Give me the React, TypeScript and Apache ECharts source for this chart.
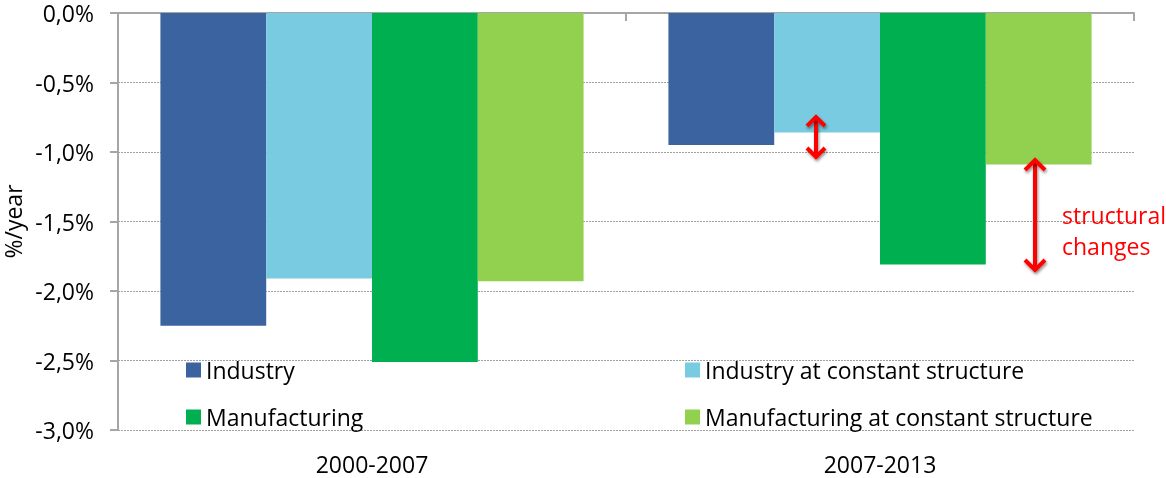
import React, { useEffect, useRef } from "react";
import * as echarts from "echarts";

const categories = ["2000-2007", "2007-2013"];
const industry = [-2.25, -0.95];
const industryConst = [-1.91, -0.86];
const manufacturing = [-2.51, -1.81];
const manufacturingConst = [-1.93, -1.09];
const seriesNames = [
  "Industry",
  "Industry at constant structure",
  "Manufacturing",
  "Manufacturing at constant structure",
];
const colors = ["#3A63A0", "#78CBE0", "#00B050", "#92D050"];
const FONT = "'Open Sans', sans-serif";
const FS = 23;

function arrow(x: number, y1: number, y2: number, w: number) {
  const shadow = {
    shadowBlur: 3,
    shadowColor: "rgba(0,0,0,0.45)",
    shadowOffsetX: 1,
    shadowOffsetY: 2,
  };
  const style = {
    stroke: "#FF0000",
    lineWidth: 4,
    fill: "none",
    lineJoin: "miter",
    ...shadow,
  };
  return [
    {
      type: "rect",
      z: 100,
      shape: { x: x - 2, y: y1 + 2, width: 4, height: y2 - y1 - 4 },
      style: { fill: "#FF0000", ...shadow },
    },
    {
      type: "polyline",
      z: 100,
      shape: { points: [[x - w, y1 + w], [x, y1], [x + w, y1 + w]] },
      style,
    },
    {
      type: "polyline",
      z: 100,
      shape: { points: [[x - w, y2 - w], [x, y2], [x + w, y2 - w]] },
      style,
    },
  ];
}

export default function App() {
  const ref = useRef<HTMLDivElement>(null);
  useEffect(() => {
    if (!ref.current) return;
    const chart = echarts.init(ref.current, null, { renderer: "svg" });
    const data = [industry, industryConst, manufacturing, manufacturingConst];
    const legendText = { fontSize: FS, color: "#000", fontFamily: FONT, lineHeight: 24 };
    chart.setOption({
      animation: false,
      textStyle: { fontFamily: FONT },
      grid: {
        left: 118,
        right: 32,
        top: 13,
        bottom: 48,
        containLabel: false,
        outerBoundsMode: "none",
      },
      legend: [
        {
          data: [seriesNames[0], seriesNames[2]],
          orient: "vertical",
          left: 181,
          top: 353,
          itemWidth: 15,
          itemHeight: 15,
          itemGap: 23,
          icon: "rect",
          textStyle: legendText,
        },
        {
          data: [seriesNames[1], seriesNames[3]],
          orient: "vertical",
          left: 680,
          top: 353,
          itemWidth: 15,
          itemHeight: 15,
          itemGap: 23,
          icon: "rect",
          textStyle: legendText,
        },
      ],
      xAxis: [
        {
          type: "category",
          data: categories,
          position: "bottom",
          axisLine: { show: false },
          axisTick: { show: false },
          axisLabel: { fontSize: FS, color: "#000", margin: 22, fontFamily: FONT },
        },
        {
          type: "category",
          data: categories,
          position: "top",
          axisLine: { show: true, lineStyle: { color: "#A6A6A6", width: 2 } },
          axisTick: { show: true, inside: true, length: 8, lineStyle: { color: "#A6A6A6", width: 2 } },
          axisLabel: { show: false },
        },
      ],
      yAxis: {
        type: "value",
        min: -3,
        max: 0,
        interval: 0.5,
        name: "%/year",
        nameLocation: "middle",
        nameGap: 93,
        nameTextStyle: { fontSize: FS, color: "#000", fontFamily: FONT },
        axisLine: { show: true, lineStyle: { color: "#A6A6A6", width: 2 } },
        axisTick: { show: true, length: 8, lineStyle: { color: "#A6A6A6", width: 2 } },
        axisLabel: {
          fontSize: FS,
          color: "#000",
          margin: 24,
          lineHeight: 22,
          fontFamily: FONT,
          formatter: (v: number) => (Math.abs(v) < 1e-9 ? "0,0%" : v.toFixed(1).replace(".", ",") + "%"),
        },
        splitLine: { show: true, lineStyle: { color: "#A0A0A0", type: [2, 1], width: 1 } },
      },
      series: seriesNames.map((name, i) => ({
        name,
        type: "bar",
        xAxisIndex: 0,
        data: data[i],
        itemStyle: { color: colors[i] },
        barGap: "0%",
        barCategoryGap: "16.7%",
      })),
      graphic: [
        ...arrow(816, 117, 157, 9),
        ...arrow(1035, 160, 270, 10),
        {
          type: "text",
          z: 100,
          left: 1062,
          top: 199,
          style: {
            text: "structural\nchanges",
            fill: "#FF0000",
            fontSize: FS,
            lineHeight: 31,
            fontFamily: FONT,
          },
        },
      ],
    });
    return () => chart.dispose();
  }, []);
  return (
    <div
      ref={ref}
      style={{ position: "fixed", left: 0, top: 0, width: 1166, height: 478 }}
    />
  );
}
